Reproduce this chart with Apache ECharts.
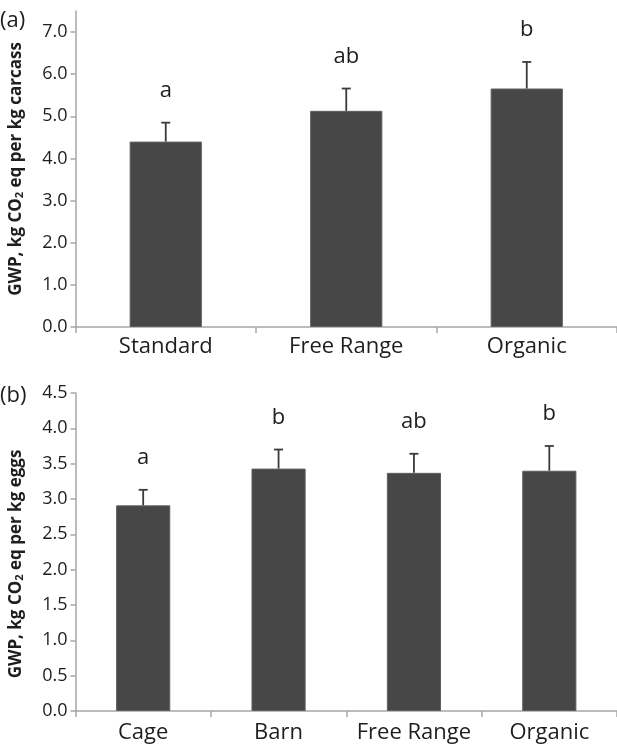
<!DOCTYPE html>
<html>
<head>
<meta charset="utf-8">
<script src="https://cdn.jsdelivr.net/npm/echarts@6/dist/echarts.min.js"></script>
<style>
  html, body { margin: 0; padding: 0; background: #fff; }
  #main { width: 617px; height: 749px; }
</style>
</head>
<body>
<div id="main"></div>
<script>
// panel (a): kg carcass
var catsA = ['Standard', 'Free Range', 'Organic'];
var meanA = [4.40, 5.13, 5.66];
var errA = [0.45, 0.53, 0.63];
var lettersA = ['a', 'ab', 'b'];
var ticksA = [0, 1, 2, 3, 4, 5, 6, 7];

// panel (b): kg eggs
var catsB = ['Cage', 'Barn', 'Free Range', 'Organic'];
var meanB = [2.91, 3.43, 3.37, 3.40];
var errB = [0.22, 0.27, 0.27, 0.35];
var lettersB = ['a', 'b', 'ab', 'b'];
var ticksB = [0, 0.5, 1, 1.5, 2, 2.5, 3, 3.5, 4, 4.5];

var FONT = 'Open Sans';
var BAR = '#474747';
var AXIS = '#a6a6a6';
var TXT = '#1e1e1e';

var myChart = echarts.init(document.getElementById('main'));

function errData(mean, err) {
	var out = [];
	for (var i = 0; i < mean.length; i++) {
		out.push([i, mean[i], mean[i] + err[i]]);
	}
	return out;
}

// error bar + significance letter
function makeErr(letters) {
	return function (params, api) {
		var base = api.coord([api.value(0), api.value(1)]);
		var top = api.coord([api.value(0), api.value(2)]);
		var s = { stroke: '#3a3a3a', lineWidth: 1.8 };
		return {
			type: 'group',
			children: [
				{ type: 'line', shape: { x1: base[0], y1: base[1], x2: top[0], y2: top[1] }, style: s },
				{ type: 'line', shape: { x1: top[0] - 4.5, y1: top[1], x2: top[0] + 4.5, y2: top[1] }, style: s },
				{ type: 'text', x: top[0], y: top[1] - 32,
				  style: { text: letters[params.dataIndex], align: 'center', verticalAlign: 'middle',
				           font: '22px "' + FONT + '"', fill: TXT } }
			]
		};
	};
}

function yAxisCfg(idx, max, interval, ticks, name, shift) {
	return {
		type: 'value', gridIndex: idx, min: 0, max: max, interval: interval,
		name: name, nameLocation: 'middle', nameGap: 50, nameRotate: 90,
		nameTextStyle: {
			fontFamily: FONT, fontWeight: 'bold', fontSize: 17, color: TXT,
			padding: [0, shift, 0, 0],
			rich: {
				n: { fontFamily: FONT, fontWeight: 'bold', fontSize: 17, color: TXT },
				sub: { fontFamily: FONT, fontWeight: 'bold', fontSize: 11, color: TXT, verticalAlign: 'bottom', padding: [7, 0, 0, 0] }
			}
		},
		axisLine: { show: true, lineStyle: { color: AXIS, width: 1.5 } },
		axisTick: { show: true, length: 5, customValues: ticks, lineStyle: { color: AXIS, width: 1.5 } },
		axisLabel: {
			customValues: ticks, fontFamily: FONT, fontSize: 18, color: TXT, margin: 8,
			formatter: function (v) { return v.toFixed(1); }
		},
		splitLine: { show: false }
	};
}

function xAxisCfg(idx, cats, margin) {
	return {
		type: 'category', gridIndex: idx, data: cats,
		axisLine: { show: true, lineStyle: { color: AXIS, width: 1.5 } },
		axisTick: { show: true, length: 6, lineStyle: { color: AXIS, width: 1.5 } },
		axisLabel: { interval: 0, hideOverlap: false, fontFamily: FONT, fontSize: 22, color: TXT, margin: margin }
	};
}

option = {
	backgroundColor: '#fff',
	animation: false,
	title: [
		{ text: '(a)', left: 0, top: 10, padding: 0, textStyle: { fontFamily: FONT, fontSize: 22, fontWeight: 'normal', color: TXT } },
		{ text: '(b)', left: 0, top: 385, padding: 0, textStyle: { fontFamily: FONT, fontSize: 22, fontWeight: 'normal', color: TXT } }
	],
	grid: [
		{ left: 69, right: 0, top: 11, bottom: 422 },
		{ left: 69, right: 0, top: 393, bottom: 38 }
	],
	xAxis: [xAxisCfg(0, catsA, 9), xAxisCfg(1, catsB, 11)],
	yAxis: [
		yAxisCfg(0, 7.5, 1, ticksA, '{n|GWP, kg CO}{sub|2}{n| eq per kg carcass}', 0),
		yAxisCfg(1, 4.5, 0.5, ticksB, '{n|GWP, kg CO}{sub|2}{n| eq per kg eggs}', 24)
	],
	series: [
		{ type: 'bar', xAxisIndex: 0, yAxisIndex: 0, data: meanA, barCategoryGap: '60%',
		  itemStyle: { color: BAR, borderColor: '#5e5e5e', borderWidth: 1 } },
		{ type: 'custom', xAxisIndex: 0, yAxisIndex: 0, data: errData(meanA, errA), renderItem: makeErr(lettersA), z: 5 },
		{ type: 'bar', xAxisIndex: 1, yAxisIndex: 1, data: meanB, barCategoryGap: '60%',
		  itemStyle: { color: BAR, borderColor: '#5e5e5e', borderWidth: 1 } },
		{ type: 'custom', xAxisIndex: 1, yAxisIndex: 1, data: errData(meanB, errB), renderItem: makeErr(lettersB), z: 5 }
	]
};
myChart.setOption(option);
</script>
</body>
</html>
